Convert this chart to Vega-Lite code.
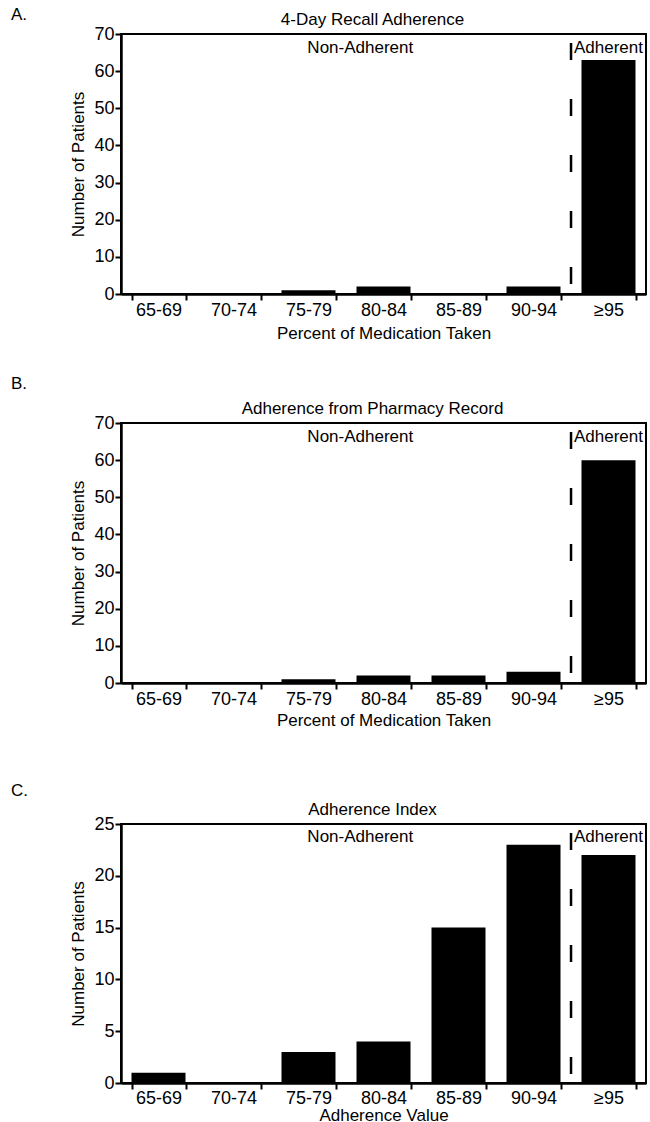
{
  "$schema": "https://vega.github.io/schema/vega-lite/v6.json",
  "padding": {"left": 10, "top": 6, "right": 3, "bottom": 0},
  "background": "white",
  "datasets": {
    "recall": [
      {"range": "65-69", "patients": 0},
      {"range": "70-74", "patients": 0},
      {"range": "75-79", "patients": 1},
      {"range": "80-84", "patients": 2},
      {"range": "85-89", "patients": 0},
      {"range": "90-94", "patients": 2},
      {"range": "≥95", "patients": 63}
    ],
    "pharmacy": [
      {"range": "65-69", "patients": 0},
      {"range": "70-74", "patients": 0},
      {"range": "75-79", "patients": 1},
      {"range": "80-84", "patients": 2},
      {"range": "85-89", "patients": 2},
      {"range": "90-94", "patients": 3},
      {"range": "≥95", "patients": 60}
    ],
    "index": [
      {"range": "65-69", "patients": 1},
      {"range": "70-74", "patients": 0},
      {"range": "75-79", "patients": 3},
      {"range": "80-84", "patients": 4},
      {"range": "85-89", "patients": 15},
      {"range": "90-94", "patients": 23},
      {"range": "≥95", "patients": 22}
    ],
    "labels": [
      {"label": "Non-Adherent", "group": "non"},
      {"label": "Adherent", "group": "adh"}
    ]
  },
  "spacing": 33,
  "vconcat": [
    {
      "title": {"text": "A.", "anchor": "start", "offset": -14, "dx": -58},
      "vconcat": [
        {
          "width": 525,
          "height": 260,
          "title": {"text": "4-Day Recall Adherence", "offset": -4, "dx": -11},
          "layer": [
            {
              "data": {"name": "recall"},
              "mark": {"type": "bar", "color": "black"},
              "encoding": {
                "x": {"field": "range", "type": "nominal", "scale": {"domain": ["65-69", "70-74", "75-79", "80-84", "85-89", "90-94", "≥95"], "paddingInner": 0.28, "paddingOuter": 0.14}, "axis": {"title": "Percent of Medication Taken", "titlePadding": 6}},
                "y": {"field": "patients", "type": "quantitative", "scale": {"domain": [0, 70], "nice": false}, "axis": {"title": "Number of Patients", "values": [0, 10, 20, 30, 40, 50, 60, 70]}}
              }
            },
            {
              "data": {"values": [{}]},
              "mark": {"type": "rule", "color": "black", "strokeWidth": 2.5, "strokeDash": [17, 39], "strokeDashOffset": 47},
              "encoding": {"x": {"datum": "≥95", "bandPosition": -0.194}, "y": {"datum": 70, "axis": {"title": "Number of Patients", "values": [0, 10, 20, 30, 40, 50, 60, 70]}}, "y2": {"datum": 0}}
            },
            {
              "data": {"name": "labels"},
              "transform": [{"filter": "datum.group == 'non'"}],
              "mark": {"type": "text", "fontSize": 17, "align": "center", "baseline": "middle"},
              "encoding": {"x": {"datum": "80-84", "bandPosition": 0.07}, "y": {"datum": 66.3, "axis": {"title": "Number of Patients", "values": [0, 10, 20, 30, 40, 50, 60, 70]}}, "text": {"field": "label"}}
            },
            {
              "data": {"name": "labels"},
              "transform": [{"filter": "datum.group == 'adh'"}],
              "mark": {"type": "text", "fontSize": 17, "align": "left", "baseline": "middle"},
              "encoding": {"x": {"datum": "≥95", "bandPosition": -0.14}, "y": {"datum": 66.3, "axis": {"title": "Number of Patients", "values": [0, 10, 20, 30, 40, 50, 60, 70]}}, "text": {"field": "label"}}
            }
          ]
        }
      ]
    },
    {
      "title": {"text": "B.", "anchor": "start", "offset": 6, "dx": -58},
      "vconcat": [
        {
          "width": 525,
          "height": 260,
          "title": {"text": "Adherence from Pharmacy Record", "offset": -4, "dx": -11},
          "layer": [
            {
              "data": {"name": "pharmacy"},
              "mark": {"type": "bar", "color": "black"},
              "encoding": {
                "x": {"field": "range", "type": "nominal", "scale": {"domain": ["65-69", "70-74", "75-79", "80-84", "85-89", "90-94", "≥95"], "paddingInner": 0.28, "paddingOuter": 0.14}, "axis": {"title": "Percent of Medication Taken", "titlePadding": 4}},
                "y": {"field": "patients", "type": "quantitative", "scale": {"domain": [0, 70], "nice": false}, "axis": {"title": "Number of Patients", "values": [0, 10, 20, 30, 40, 50, 60, 70]}}
              }
            },
            {
              "data": {"values": [{}]},
              "mark": {"type": "rule", "color": "black", "strokeWidth": 2.5, "strokeDash": [17, 39], "strokeDashOffset": 47},
              "encoding": {"x": {"datum": "≥95", "bandPosition": -0.194}, "y": {"datum": 70, "axis": {"title": "Number of Patients", "values": [0, 10, 20, 30, 40, 50, 60, 70]}}, "y2": {"datum": 0}}
            },
            {
              "data": {"name": "labels"},
              "transform": [{"filter": "datum.group == 'non'"}],
              "mark": {"type": "text", "fontSize": 17, "align": "center", "baseline": "middle"},
              "encoding": {"x": {"datum": "80-84", "bandPosition": 0.07}, "y": {"datum": 66.3, "axis": {"title": "Number of Patients", "values": [0, 10, 20, 30, 40, 50, 60, 70]}}, "text": {"field": "label"}}
            },
            {
              "data": {"name": "labels"},
              "transform": [{"filter": "datum.group == 'adh'"}],
              "mark": {"type": "text", "fontSize": 17, "align": "left", "baseline": "middle"},
              "encoding": {"x": {"datum": "≥95", "bandPosition": -0.14}, "y": {"datum": 66.3, "axis": {"title": "Number of Patients", "values": [0, 10, 20, 30, 40, 50, 60, 70]}}, "text": {"field": "label"}}
            }
          ]
        }
      ]
    },
    {
      "title": {"text": ["", "C."], "lineHeight": 20, "anchor": "start", "offset": 0, "dx": -58},
      "vconcat": [
        {
          "width": 525,
          "height": 259,
          "title": {"text": "Adherence Index", "offset": -4, "dx": -11},
          "layer": [
            {
              "data": {"name": "index"},
              "mark": {"type": "bar", "color": "black"},
              "encoding": {
                "x": {"field": "range", "type": "nominal", "scale": {"domain": ["65-69", "70-74", "75-79", "80-84", "85-89", "90-94", "≥95"], "paddingInner": 0.28, "paddingOuter": 0.14}, "axis": {"title": "Adherence Value", "titlePadding": 0, "labelPadding": 0}},
                "y": {"field": "patients", "type": "quantitative", "scale": {"domain": [0, 25], "nice": false}, "axis": {"title": "Number of Patients", "values": [0, 5, 10, 15, 20, 25]}}
              }
            },
            {
              "data": {"values": [{}]},
              "mark": {"type": "rule", "color": "black", "strokeWidth": 2.5, "strokeDash": [17, 39], "strokeDashOffset": 47},
              "encoding": {"x": {"datum": "≥95", "bandPosition": -0.194}, "y": {"datum": 25, "axis": {"title": "Number of Patients", "values": [0, 5, 10, 15, 20, 25]}}, "y2": {"datum": 0}}
            },
            {
              "data": {"name": "labels"},
              "transform": [{"filter": "datum.group == 'non'"}],
              "mark": {"type": "text", "fontSize": 17, "align": "center", "baseline": "middle"},
              "encoding": {"x": {"datum": "80-84", "bandPosition": 0.07}, "y": {"datum": 23.7, "axis": {"title": "Number of Patients", "values": [0, 5, 10, 15, 20, 25]}}, "text": {"field": "label"}}
            },
            {
              "data": {"name": "labels"},
              "transform": [{"filter": "datum.group == 'adh'"}],
              "mark": {"type": "text", "fontSize": 17, "align": "left", "baseline": "middle"},
              "encoding": {"x": {"datum": "≥95", "bandPosition": -0.14}, "y": {"datum": 23.7, "axis": {"title": "Number of Patients", "values": [0, 5, 10, 15, 20, 25]}}, "text": {"field": "label"}}
            }
          ]
        }
      ]
    }
  ],
  "config": {
    "font": "Liberation Sans",
    "view": {"stroke": "black", "strokeWidth": 2},
    "title": {"fontSize": 17, "fontWeight": "normal", "color": "black", "font": "Liberation Sans"},
    "axis": {
      "grid": false,
      "domainColor": "black",
      "domainWidth": 2.5,
      "tickColor": "black",
      "tickWidth": 2,
      "tickSize": 6,
      "labelColor": "black",
      "labelFontSize": 18,
      "labelFont": "Liberation Sans",
      "labelOverlap": false,
      "titleFontSize": 17,
      "titleFont": "Liberation Sans",
      "titleFontWeight": "normal",
      "titleColor": "black",
      "labelPadding": 1
    },
    "axisX": {"labelAngle": 0, "tickBand": "extent", "labelPadding": 1},
    "axisY": {"titlePadding": 6},
    "text": {"color": "black", "font": "Liberation Sans"}
  }
}
